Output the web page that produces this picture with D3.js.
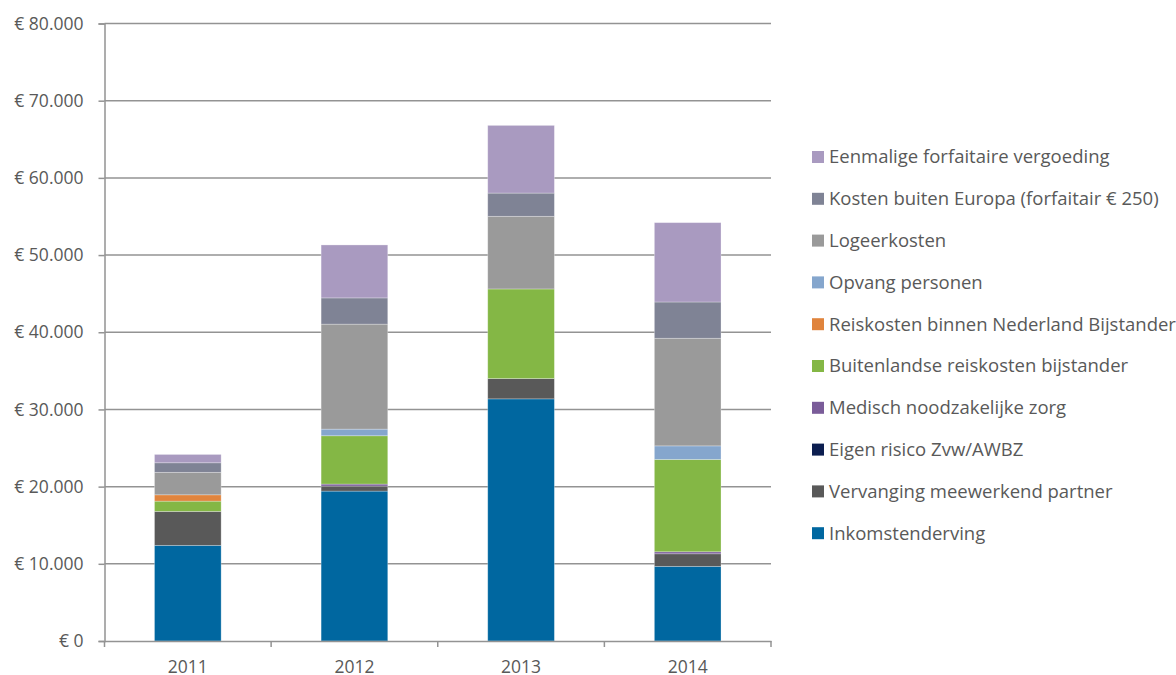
<!DOCTYPE html>
<html>
<head>
<meta charset="utf-8">
<script src="https://cdn.jsdelivr.net/npm/d3@7"></script>
<style>
  html, body { margin: 0; padding: 0; background: #fff; }
  svg { display: block; }
  text { font-family: "Open Sans", "Lato", sans-serif; fill: #595959; }
</style>
</head>
<body>
<svg id="chart" width="1176" height="675"></svg>
<script>
// ---- data ----
const years = ["2011", "2012", "2013", "2014"];
const seriesNames = [
  "Inkomstenderving",
  "Vervanging meewerkend partner",
  "Eigen risico Zvw/AWBZ",
  "Medisch noodzakelijke zorg",
  "Buitenlandse reiskosten bijstander",
  "Reiskosten binnen Nederland Bijstander",
  "Opvang personen",
  "Logeerkosten",
  "Kosten buiten Europa (forfaitair € 250)",
  "Eenmalige forfaitaire vergoeding"
];
const inkomstenderving   = [12390, 19420, 31370, 9670];
const vervanging         = [4400, 650, 2630, 1630];
const eigenRisico        = [0, 0, 0, 0];
const medisch            = [0, 260, 0, 260];
const buitenlandseReis   = [1330, 6260, 11610, 11960];
const reiskostenNL       = [820, 0, 0, 0];
const opvang             = [0, 860, 0, 1760];
const logeerkosten       = [2910, 13600, 9410, 13940];
const kostenBuitenEuropa = [1240, 3400, 3010, 4700];
const eenmalige          = [1080, 6860, 8770, 10280];
const yTicks = [0, 10000, 20000, 30000, 40000, 50000, 60000, 70000, 80000];
const colors = ["#0067a0", "#595959", "#0c1e50", "#7a5c99", "#84b745",
                "#e0843d", "#85a6cd", "#9a9a9a", "#7f8395", "#a99ac0"];

const seriesValues = [inkomstenderving, vervanging, eigenRisico, medisch, buitenlandseReis,
  reiskostenNL, opvang, logeerkosten, kostenBuitenEuropa, eenmalige];

const table = years.map((yr, i) => {
  const row = { year: yr };
  seriesNames.forEach((s, j) => row[s] = seriesValues[j][i]);
  return row;
});

// ---- layout ----
const svg = d3.select("#chart");
const mLeft = 104.5, mRight = 771, mTop = 23.5, mBottom = 641;

const x = d3.scaleBand().domain(years).range([mLeft, mRight]).paddingInner(0.6).paddingOuter(0.3);
const y = d3.scaleLinear().domain([0, 80000]).range([mBottom, mTop]);
const color = d3.scaleOrdinal().domain(seriesNames).range(colors);

const locale = d3.formatLocale({ decimal: ",", thousands: ".", grouping: [3], currency: ["€ ", ""] });
const fmt = locale.format("$,.0f");

const gridColor = "#939393";
const axisFont = 17.5;

// gridlines
svg.append("g").selectAll("line").data(yTicks.filter(d => d > 0)).join("line")
  .attr("x1", mLeft).attr("x2", mRight)
  .attr("y1", d => y(d)).attr("y2", d => y(d))
  .attr("stroke", gridColor).attr("stroke-width", 1.5);

// bars
const stack = d3.stack().keys(seriesNames)(table);
svg.append("g").selectAll("g").data(stack).join("g")
  .attr("fill", d => color(d.key))
  .selectAll("rect").data(d => d).join("rect")
  .attr("x", d => x(d.data.year))
  .attr("width", x.bandwidth())
  .attr("y", d => y(d[1]))
  .attr("height", d => Math.max(0, y(d[0]) - y(d[1])))
  .attr("stroke", d => (d[1] - d[0]) > 0 ? "rgba(255,255,255,0.35)" : "none")
  .attr("stroke-width", 0.8);

// y axis
const yAxis = d3.axisLeft(y).tickValues(yTicks).tickFormat(fmt).tickSize(6).tickPadding(15);
const gy = svg.append("g").attr("transform", `translate(${mLeft},0)`).call(yAxis);
gy.attr("font-size", null).attr("font-family", null);
gy.select(".domain").attr("stroke", gridColor).attr("stroke-width", 1.5);
gy.selectAll(".tick line").attr("stroke", gridColor).attr("stroke-width", 1.5);
gy.selectAll(".tick text").style("font-size", axisFont + "px").attr("fill", "#595959");

// x axis
const xAxis = d3.axisBottom(x).tickSize(0).tickPadding(20);
const gx = svg.append("g").attr("transform", `translate(0,${mBottom})`).call(xAxis);
gx.attr("font-size", null).attr("font-family", null);
gx.select(".domain").attr("stroke", gridColor).attr("stroke-width", 1.5);
gx.selectAll(".tick text").style("font-size", axisFont + "px").attr("fill", "#595959");
// category boundary ticks
svg.append("g").selectAll("line").data(d3.range(years.length + 1)).join("line")
  .attr("x1", i => mLeft + i * (mRight - mLeft) / years.length)
  .attr("x2", i => mLeft + i * (mRight - mLeft) / years.length)
  .attr("y1", mBottom).attr("y2", mBottom + 6)
  .attr("stroke", gridColor).attr("stroke-width", 1.5);

// legend
const legendItems = seriesNames.slice().reverse();
const lg = svg.append("g").attr("transform", "translate(812,157)");
const li = lg.selectAll("g").data(legendItems).join("g")
  .attr("transform", (d, i) => `translate(0,${i * 41.8})`);
li.append("rect").attr("x", 0).attr("y", -6).attr("width", 12).attr("height", 12)
  .attr("fill", d => color(d));
li.append("text").attr("x", 17).attr("y", 0).attr("dy", "0.35em")
  .style("font-size", "18.5px").text(d => d);
</script>
</body>
</html>
